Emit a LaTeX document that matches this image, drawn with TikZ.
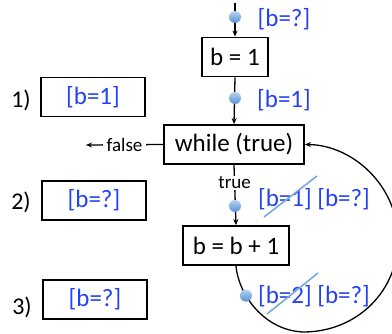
\documentclass[tikz,border=0pt]{standalone}
\usepackage{fontspec}
\setmainfont{Carlito}
\usetikzlibrary{arrows.meta}
\definecolor{txtblue}{RGB}{35,65,245}
\definecolor{dotblue}{RGB}{130,180,232}
\definecolor{dotdark}{RGB}{90,145,210}
\definecolor{strike}{RGB}{120,170,215}
\tikzset{
  big/.style={font=\fontsize{25}{29}\selectfont},
  small/.style={font=\fontsize{19}{21}\selectfont},
  num/.style={font=\fontsize{24}{28}\selectfont},
  flowbox/.style={draw, line width=1.8pt, big, inner sep=0pt, minimum height=39pt},
  ansbox/.style={draw, line width=1.4pt, big, text=txtblue, inner sep=0pt, minimum width=104pt, minimum height=39pt},
  lbl/.style={big, text=txtblue, inner sep=0pt},
  dot/.style={circle, draw=none, minimum size=12pt, inner sep=0pt, top color=dotblue!60!white, bottom color=dotdark},
  conn/.style={line width=1.3pt, -{Stealth[length=6pt,width=5pt]}},
  strk/.style={line width=1.6pt, strike}
}
\begin{document}
\begin{tikzpicture}[x=1pt,y=-1pt]
\useasboundingbox (0,0) rectangle (392,333);
% flowchart boxes
\node[flowbox, minimum width=66pt] (b1) at (235,57) {b = 1};
\node[flowbox, minimum width=140pt] (w) at (234,144.5) {while (true)};
\node[flowbox, minimum width=106pt] (b2) at (236,245.5) {b = b + 1};
\coordinate (top) at (235,3);
\coordinate (fend) at (86,145);
% connectors
\draw[conn] (top) -- (b1.north);
\draw[conn] (b1.south) -- (w.north);
\draw[conn] (w.south) -- node[small, fill=white, inner sep=1pt, pos=0.3] (tr) {true} (b2.north);
\draw[conn] (w.west) -- node[small, fill=white, inner sep=4pt] (fl) {false} (fend);
\draw[line width=1.3pt, -{Stealth[length=6pt,width=5pt]}]
  (b2.south) .. controls (238,292) and (262,330) .. node[dot, pos=0.35] (d4) {} (303,332)
  .. controls (358,332) and (398,290) .. (398,240)
  .. controls (398,185) and (352,145) .. (w.east);
% dots
\node[dot] (d1) at (235,17) {};
\node[dot] (d2) at (235,98) {};
\node[dot] (d3) at (235,206) {};
% state labels
\node[lbl] (l1) at (284,19) {[b=?]};
\node[lbl] (l2) at (284,100) {[b=1]};
\node[lbl] (l3) at (314,199) {[b=1] [b=?]};
\node[lbl] (l4) at (314,296) {[b=2] [b=?]};
\coordinate (s1a) at (264,217); \coordinate (s1b) at (317,176);
\coordinate (s2a) at (267,314); \coordinate (s2b) at (318,273);
\draw[strk] (s1a) -- (s1b);
\draw[strk] (s2a) -- (s2b);
% answer boxes
\node[ansbox] (a1) at (93,97) {[b=1]};
\node[ansbox] (a2) at (94,200.5) {[b=?]};
\node[ansbox] (a3) at (95,299.5) {[b=?]};
\node[num] (n1) at (21,100) {1)};
\node[num] (n2) at (21,202) {2)};
\node[num] (n3) at (22,307) {3)};
\end{tikzpicture}
\end{document}
